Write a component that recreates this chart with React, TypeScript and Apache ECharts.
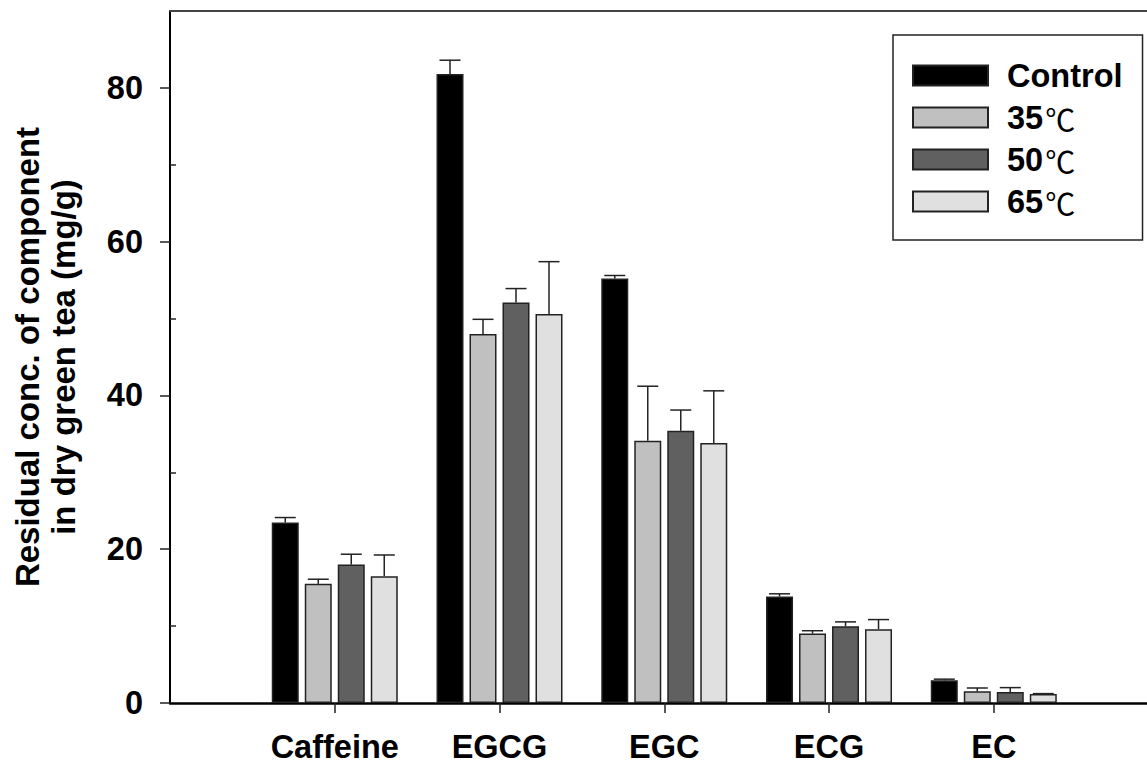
import React, { useEffect, useRef } from "react";
import * as echarts from "echarts";

const categories = ["Caffeine", "EGCG", "EGC", "ECG", "EC"];
const seriesNames = ["Control", "35℃", "50℃", "65℃"];
const controlVals = [23.47, 81.8, 55.2, 13.85, 2.95];
const controlErr = [0.65, 1.8, 0.4, 0.35, 0.15];
const t35Vals = [15.5, 48.0, 34.1, 9.03, 1.52];
const t35Err = [0.6, 1.9, 7.1, 0.37, 0.43];
const t50Vals = [18.0, 52.1, 35.4, 9.98, 1.43];
const t50Err = [1.35, 1.8, 2.7, 0.57, 0.57];
const t65Vals = [16.5, 50.6, 33.8, 9.6, 1.17];
const t65Err = [2.75, 6.8, 6.8, 1.25, 0.05];
const yTickLabels = [0, 20, 40, 60, 80];
const yMinorTicks = [10, 30, 50, 70];

const allVals = [controlVals, t35Vals, t50Vals, t65Vals];
const allErr = [controlErr, t35Err, t50Err, t65Err];
const colors = ["#000000", "#c0c0c0", "#606060", "#e0e0e0"];

const FONT = "'Liberation Sans', Arial, Helvetica, sans-serif";
const FS = 32.5;
const BAR_W = 27;
const GAP = 6;
const X_MAX = 5.93;

export default function App() {
  const ref = useRef<HTMLDivElement>(null);
  useEffect(() => {
    if (!ref.current) return;
    const chart = echarts.init(ref.current, null, { renderer: "svg" });
    const catPos = categories.map((_, i) => i + 1);

    const barSeries = seriesNames.map((name, si) => ({
      name,
      type: "bar",
      barWidth: BAR_W,
      barGap: (GAP / BAR_W) * 100 + "%",
      itemStyle: {
        color: colors[si],
        borderColor: "#222",
        borderWidth: 1.5,
      },
      data: allVals[si].map((v, ci) => [catPos[ci], v]),
      z: 2,
    }));

    const errSeries = seriesNames.map((name, si) => ({
      name: name + "_err",
      type: "custom",
      z: 3,
      renderItem: (params: any, api: any) => {
        const x = api.value(0);
        const v = api.value(1);
        const e = api.value(2);
        const p0 = api.coord([x, v]);
        const p1 = api.coord([x, v + e]);
        const px = p0[0] + (si - 1.5) * (BAR_W + GAP);
        const style = { stroke: "#222", lineWidth: 1.5 };
        return {
          type: "group",
          children: [
            { type: "line", shape: { x1: px, y1: p0[1], x2: px, y2: p1[1] }, style },
            { type: "line", shape: { x1: px - 10.5, y1: p1[1], x2: px + 10.5, y2: p1[1] }, style },
          ],
        };
      },
      encode: { x: 0, y: 1 },
      data: allVals[si].map((v, ci) => [catPos[ci], v, allErr[si][ci]]),
      silent: true,
    }));

    chart.setOption({
      animation: false,
      backgroundColor: "#fff",
      textStyle: { fontFamily: FONT },
      grid: { left: 170, right: 0, top: 11, bottom: 61, containLabel: false },
      legend: {
        data: seriesNames,
        orient: "vertical",
        left: 893,
        top: 35,
        itemWidth: 75,
        itemHeight: 20,
        itemGap: 9,
        icon: "rect",
        padding: [24, 20, 22, 19],
        borderColor: "#222",
        borderWidth: 1.5,
        formatter: (name: string) =>
          name.indexOf("℃") >= 0 ? name.replace("℃", "{c|℃}") : name,
        textStyle: {
          fontFamily: FONT,
          fontSize: FS,
          fontWeight: "bold",
          color: "#000",
          padding: [0, 0, 0, 14],
          rich: {
            c: {
              fontFamily: "'Noto Sans CJK SC', 'DejaVu Sans', sans-serif",
              fontWeight: "normal",
              fontSize: 30,
              color: "#000",
              padding: [0, 0, 0, 2],
            },
          },
        },
      },
      xAxis: [
        {
          type: "value",
          min: 0,
          max: X_MAX,
          interval: 1,
          axisLine: { onZero: false, lineStyle: { color: "#000", width: 2.5 } },
          axisTick: {
            length: 10,
            customValues: catPos,
            lineStyle: { color: "#222", width: 1.5 },
          },
          axisLabel: {
            customValues: catPos,
            formatter: (v: number) => categories[Math.round(v) - 1] || "",
            fontFamily: FONT,
            fontSize: FS,
            fontWeight: "bold",
            color: "#000",
            margin: 27,
          },
          splitLine: { show: false },
        },
        {
          type: "value",
          position: "top",
          min: 0,
          max: X_MAX,
          axisLine: { show: true, onZero: false, lineStyle: { color: "#444", width: 2 } },
          axisTick: { show: false },
          axisLabel: { show: false },
          splitLine: { show: false },
        },
      ],
      yAxis: [
        {
          type: "value",
          min: 0,
          max: 90,
          interval: 10,
          axisLine: { show: true, onZero: false, lineStyle: { color: "#000", width: 2 } },
          axisTick: {
            length: 10,
            customValues: yTickLabels,
            lineStyle: { color: "#222", width: 1.5 },
          },
          axisLabel: {
            customValues: yTickLabels,
            fontFamily: FONT,
            fontSize: FS,
            fontWeight: "bold",
            color: "#000",
            margin: 27,
          },
          splitLine: { show: false },
        },
        {
          type: "value",
          position: "left",
          min: 0,
          max: 90,
          interval: 10,
          axisLine: { show: false, onZero: false },
          axisTick: {
            inside: true,
            length: 6,
            customValues: yMinorTicks,
            lineStyle: { color: "#222", width: 1.5 },
          },
          axisLabel: { show: false },
          splitLine: { show: false },
        },
      ],
      graphic: [
        {
          type: "text",
          x: 45,
          y: 357,
          rotation: Math.PI / 2,
          style: {
            text: "Residual conc. of component\nin dry green tea (mg/g)",
            fontFamily: FONT,
            fontSize: 33,
            fontWeight: "bold",
            fill: "#000",
            align: "center",
            verticalAlign: "middle",
            lineHeight: 36,
          },
        },
      ],
      series: [...barSeries, ...errSeries],
    });
    return () => chart.dispose();
  }, []);
  return (
    <div
      ref={ref}
      style={{ position: "absolute", left: 0, top: 0, width: 1147, height: 764 }}
    />
  );
}
